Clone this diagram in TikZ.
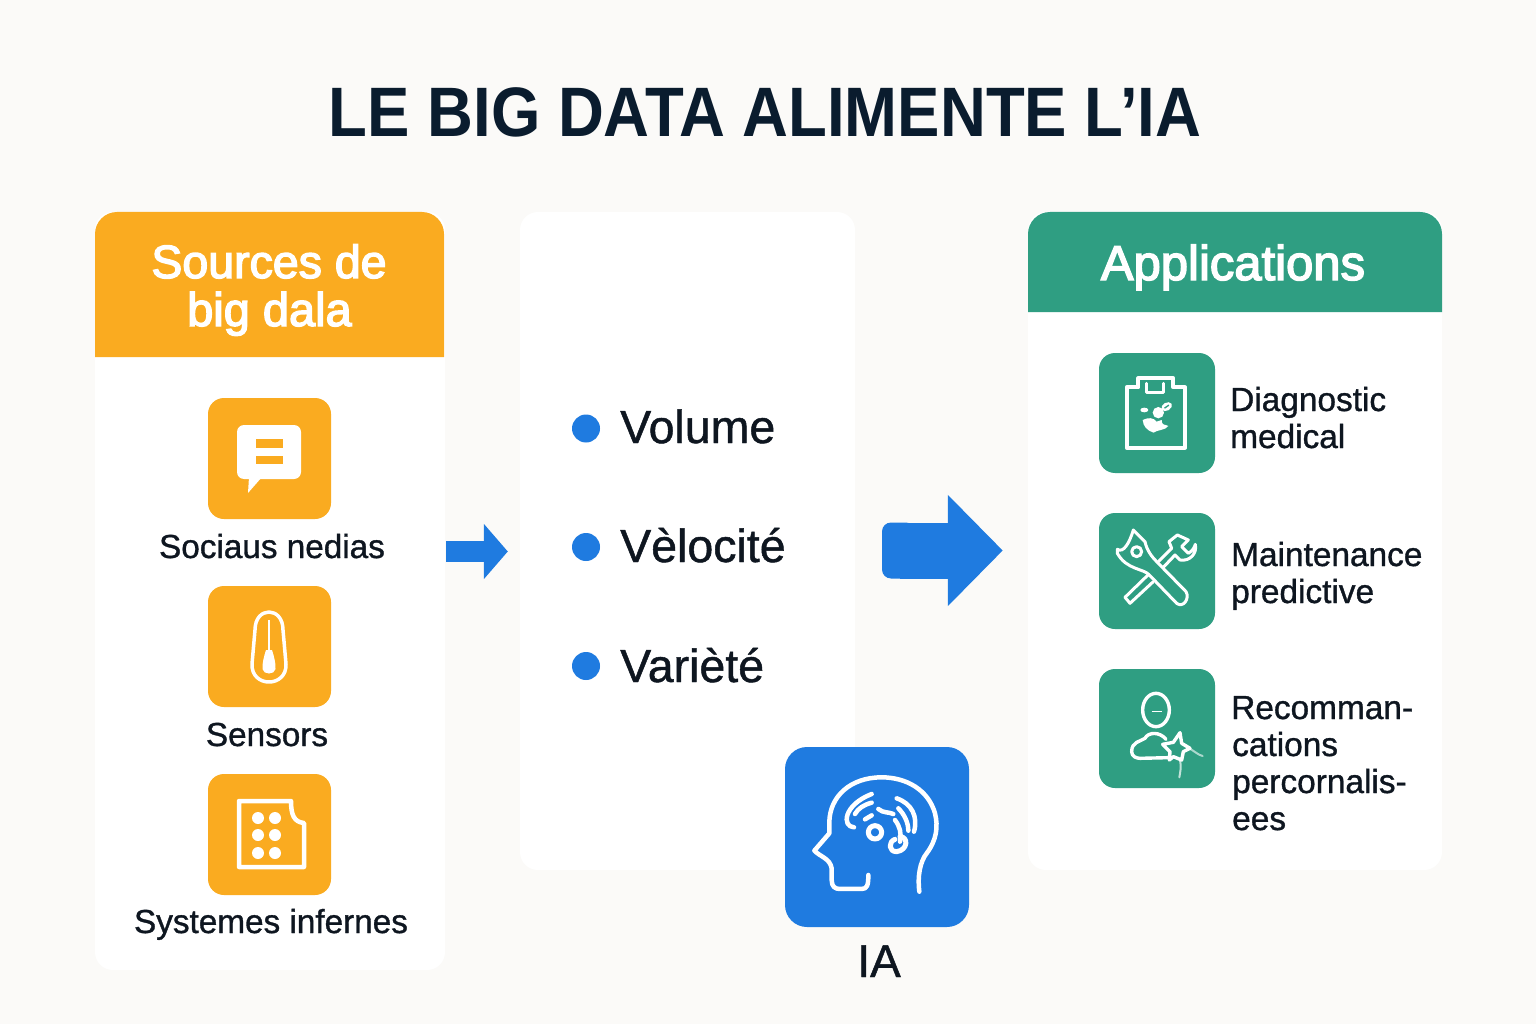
\documentclass[tikz,border=0pt]{standalone}
\usepackage{fontspec}
\usetikzlibrary{arrows.meta}
\setmainfont{Liberation Sans}
\newfontfamily\titlefont[FakeStretch=0.907]{Liberation Sans Bold}
\newfontfamily\headfont[FakeBold=3]{Liberation Sans}
\newfontfamily\medfont[FakeBold=1]{Liberation Sans}
\definecolor{pagebg}{HTML}{FBFAF8}
\definecolor{orangeC}{HTML}{FAAB20}
\definecolor{greenC}{HTML}{2F9E82}
\definecolor{blueC}{HTML}{1F7BE0}
\definecolor{titleC}{HTML}{0A1C2E}
\definecolor{textC}{HTML}{0E1620}
\newcommand{\fs}[1]{\fontsize{#1pt}{#1pt}\selectfont}
\tikzset{
  panel/.style={fill=white,rounded corners=18pt,inner sep=0pt,draw=none},
  orangeicon/.style={fill=orangeC,rounded corners=16pt,minimum width=123pt,minimum height=121pt,inner sep=0pt},
  greenicon/.style={fill=greenC,rounded corners=16pt,minimum width=116pt,minimum height=118pt,inner sep=0pt},
  lbl/.style={inner sep=0pt,text=textC,font=\medfont\fs{33.3}},
  listlbl/.style={inner sep=0pt,text=textC,anchor=base west,font=\medfont\fs{33.4}},
  vlbl/.style={inner sep=0pt,text=textC,anchor=base west,font=\medfont\fs{46.5}},
  dot/.style={circle,fill=blueC,minimum size=28pt,inner sep=0pt},
  ln/.style={draw=white,line width=3.5pt,line cap=round,line join=round},
  thin/.style={draw=white,line width=3pt,line cap=round,line join=round},
  blk/.style={fill=white,draw=none},
  zoomed/.style={x=0.3333pt,y=-0.3333pt}
}
\begin{document}
\begin{tikzpicture}[x=1pt,y=-1pt]
\useasboundingbox (0,0) rectangle (1536,1024);
\fill[pagebg] (0,0) rectangle (1536,1024);
\node[inner sep=0pt,anchor=base,text=titleC] (title) at (765,137) {\titlefont\fs{70}LE BIG DATA ALIMENTE L’IA};

% panels
\node[panel,minimum width=350pt,minimum height=758pt] (srcpanel) at (270,591) {};
\node[panel,minimum width=335pt,minimum height=658pt] (midpanel) at (687.5,541) {};
\node[panel,minimum width=414pt,minimum height=658pt] (apppanel) at (1235,541) {};

% headers
\fill[orangeC] (95,357) [rounded corners=22pt] -- (95,212) -- (444,212) [sharp corners] -- (444,357) -- cycle;
\fill[greenC] (1028,312) [rounded corners=22pt] -- (1028,212) -- (1442,212) [sharp corners] -- (1442,312) -- cycle;
\node[inner sep=0pt,anchor=base,text=white] (h1a) at (269,278) {\headfont\fs{46.5}Sources de};
\node[inner sep=0pt,anchor=base,text=white] (h1b) at (269.5,326) {\headfont\fs{47}big dala};
\node[inner sep=0pt,anchor=base,text=white] (h3) at (1233,280) {\headfont\fs{49}Applications};

% left icons
\node[orangeicon] (i1) at (269.5,458.5) {};
\node[orangeicon] (i2) at (269.5,646.5) {};
\node[orangeicon] (i3) at (269.5,834.5) {};
\node[lbl,anchor=base] (l1) at (272,558) {Sociaus nedias};
\node[lbl,anchor=base] (l2) at (267,746) {Sensors};
\node[lbl,anchor=base] (l3) at (271,933) {Systemes infernes};

% speech bubble
\fill[white,rounded corners=7pt] (237,425) rectangle (301,479);
\fill[white] (249,477) -- (248,493) -- (262,477) -- cycle;
\fill[orangeC] (256,439) rectangle (283,447.5);
\fill[orangeC] (256,456) rectangle (283,464);

% thermometer
\draw[ln] (255,630) .. controls (255,606) and (283,606) .. (283,630)
  -- (286,664) .. controls (287,688) and (251,688) .. (252,664) -- cycle;
\draw[white,line width=1.6pt] (269,620) -- (269,650);
\fill[white] (266,650) -- (272,650) .. controls (274,656) and (276,664) .. (275.5,669)
  .. controls (275,675) and (263,675) .. (262.5,669) .. controls (262,664) and (264,656) .. (266,650) -- cycle;

% document
\draw[draw=white,line width=4.5pt,line join=round] (239,801) -- (291,801) .. controls (291,815) and (294,822) .. (304,823) -- (304,867) -- (239,867) -- cycle;
\foreach \px in {258,275}{\foreach \py in {818,835,853}{\fill[white] (\px,\py) circle[radius=6pt];}}

% arrows
\draw[-{Triangle[length=24pt,width=54pt]},blueC,line width=21pt] ([yshift=39.5pt,xshift=1pt]srcpanel.east) -- ([yshift=-10.5pt,xshift=-12pt]midpanel.west);
\fill[blueC,rounded corners=9pt] (882,522.5) rectangle (915,578.5);
\draw[-{Triangle[length=55pt,width=108pt]},blueC,line width=56pt] ([yshift=-9.5pt,xshift=45pt]midpanel.east) -- ([yshift=-9.5pt,xshift=-25pt]apppanel.west);

% middle list
\node[dot] (d1) at (586,428.5) {};
\node[dot] (d2) at (586,547) {};
\node[dot] (d3) at (586,666) {};
\node[vlbl] (v1) at (620,443) {Volume};
\node[vlbl] (v2) at (620,562) {Vèlocité};
\node[vlbl] (v3) at (620,682) {Varièté};

% right icons
\node[greenicon,minimum height=120pt] (g1) at (1157,413) {};
\node[greenicon,minimum height=116pt] (g2) at (1157,571) {};
\node[greenicon,minimum height=119pt] (g3) at (1157,728.5) {};
\node[listlbl] (a1) at (1230,411) {Diagnostic};
\node[listlbl] (a2) at (1230,448) {medical};
\node[listlbl] (a3) at (1231,566) {Maintenance};
\node[listlbl] (a4) at (1231,603) {predictive};
\node[listlbl] (a5) at (1231,719) {Recomman-};
\node[listlbl] (a6) at (1232,756) {cations};
\node[listlbl] (a7) at (1232,793) {percornalis-};
\node[listlbl] (a8) at (1232,830) {ees};

% clipboard
\begin{scope}[shift={(1090,340)},zoomed]
\draw[ln,line width=4pt] (145,142) -- (145,115) -- (250,115) -- (250,142) -- (285,142) -- (285,323) -- (110,323) -- (110,142) -- cycle;
\draw[ln,line width=3pt] (170,130) -- (170,157) -- (220,157) -- (220,130);
\fill[white] (205,218) circle[radius=17];
\fill[white,rotate around={30:(230,200)}] (230,200) ellipse[x radius=17,y radius=12];
\fill[greenC,rotate around={35:(230,200)}] (222,198) rectangle (238,202);
\fill[white] (163,210) ellipse[x radius=12,y radius=7];
\fill[white] (158,240) .. controls (175,232) and (190,232) .. (200,245) -- (215,240) .. controls (215,258) and (225,252) .. (235,258) .. controls (225,272) and (205,268) .. (190,278) .. controls (170,270) and (160,260) .. (158,240) -- cycle;
\end{scope}

% tools
\begin{scope}[shift={(1090,340)},zoomed]
\draw[thin] (82,628) .. controls (100,640) and (118,610) .. (130,570) -- (165,605)
  .. controls (170,630) and (185,650) .. (200,665) -- (288,755) .. controls (300,775) and (280,805) .. (260,790)
  -- (178,705) .. controls (160,685) and (110,690) .. (82,640) -- cycle;
\draw[thin] (140,635) circle[radius=15];
\draw[thin] (105,772) -- (176,703);
\draw[thin] (105,772) -- (120,790) -- (190,725);
\draw[thin] (205,665) -- (245,625) -- (237,605) -- (262,585) -- (295,600) -- (275,620) -- (295,640) .. controls (308,632) and (312,625) .. (316,613) .. controls (322,640) and (300,665) .. (270,660) -- (255,645) -- (220,682);
\end{scope}

% person
\begin{scope}[shift={(1090,660)},zoomed]
\draw[thin,line width=3.4pt] (198,150) ellipse[x radius=40,y radius=50];
\draw[white,line width=0.9pt] (185,153) -- (215,153);
\draw[thin,line width=3.4pt] (228,238) .. controls (210,215) and (175,215) .. (165,235) .. controls (150,245) and (125,245) .. (125,275) .. controls (125,290) and (140,295) .. (150,295) -- (235,293);
\draw[thin,line width=3.4pt] (218,253) -- (250,247) -- (270,218) -- (275,250) -- (300,265) -- (280,275) -- (275,300) -- (250,290) -- (238,300) -- (240,275) -- cycle;
\draw[white,line width=2pt,line cap=round,opacity=.7] (270,300) .. controls (275,320) and (270,340) .. (268,352);
\draw[white,line width=2pt,line cap=round,opacity=.6] (298,265) .. controls (315,275) and (325,285) .. (338,288);
\end{scope}

% IA
\node[fill=blueC,rounded corners=22pt,minimum width=184pt,minimum height=180pt,inner sep=0pt] (ia) at (877,837) {};
\node[inner sep=0pt,anchor=base,text=textC] (ialbl) at (879,977) {\medfont\fs{46}IA};
\begin{scope}[shift={(780,740)},zoomed]
\draw[ln,line width=4.5pt] (418,455) .. controls (412,410) and (420,365) .. (440,340) .. controls (470,300) and (475,260) .. (465,220) .. controls (445,150) and (380,112) .. (305,112) .. controls (210,112) and (150,170) .. (148,245) -- (148,280) -- (103,332) .. controls (120,350) and (150,355) .. (155,385) -- (155,420) .. controls (155,440) and (165,447) .. (180,447) -- (245,447) .. controls (262,447) and (265,435) .. (265,405);
\draw[ln,line width=4.5pt] (222,262) .. controls (185,260) and (190,195) .. (275,162);
\draw[ln,line width=4.5pt] (225,222) .. controls (235,205) and (250,195) .. (275,188);
\draw[ln,line width=4.5pt] (255,238) -- (275,226);
\draw[ln,line width=5pt] (285,277) circle[radius=20];
\draw[ln,line width=4.5pt] (295,207) .. controls (310,220) and (325,215) .. (340,222);
\draw[ln,line width=4.5pt] (350,175) .. controls (395,190) and (415,230) .. (402,275);
\draw[ln,line width=4.5pt] (355,205) .. controls (375,225) and (385,250) .. (385,272);
\draw[ln,line width=4.5pt] (345,240) .. controls (360,260) and (365,280) .. (360,305);
\draw[ln,line width=5pt] (360,290) .. controls (385,290) and (385,330) .. (350,335) .. controls (325,335) and (325,305) .. (345,298);
\end{scope}
\end{tikzpicture}
\end{document}
